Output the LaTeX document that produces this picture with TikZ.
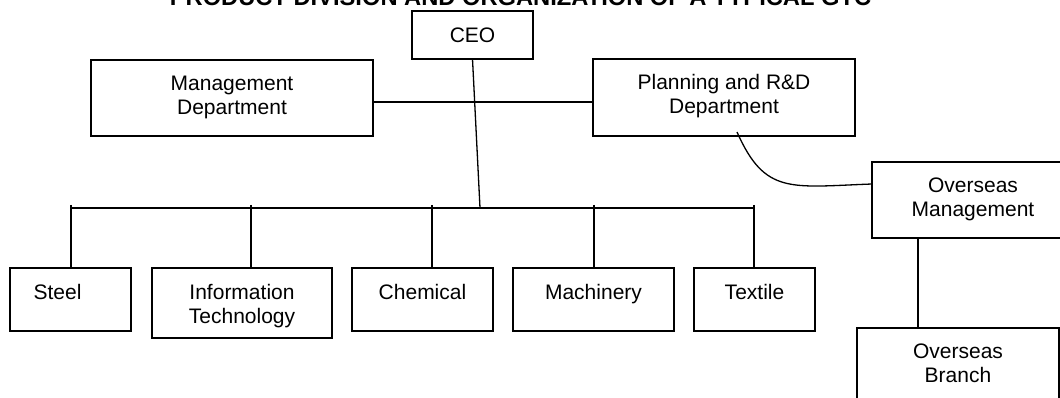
\documentclass[tikz,border=0pt]{standalone}
\usepackage{fontspec}
\setmainfont{Liberation Sans}
\newcommand\boxtext[1]{\begin{tabular}[t]{@{}c@{}}#1\end{tabular}}
\begin{document}
\begin{tikzpicture}[x=1pt,y=-1pt,
  unit/.style={draw, line width=1.3pt, inner sep=0pt, outer sep=0pt, anchor=north west},
  caption/.style={anchor=base, inner sep=0pt, font=\fontsize{21}{24}\selectfont},
  link/.style={line width=1.3pt}]
\useasboundingbox (0,0) rectangle (1060,398);
\clip (0,0) rectangle (1060,398);

% heading
\node[anchor=base, inner sep=0pt, font=\fontsize{23.7}{28}\selectfont\bfseries] (title) at (520.5,6)
  {PRODUCT DIVISION AND ORGANIZATION OF A TYPICAL GTC};

% top level
\node[unit, minimum width=121pt, minimum height=48pt] (ceo) at (412,11) {};
\node[unit, minimum width=282pt, minimum height=76pt] (mgmt) at (91,60) {};
\node[unit, minimum width=262pt, minimum height=77pt] (plan) at (593,59) {};

% divisions
\node[unit, minimum width=121pt, minimum height=63pt] (steel) at (10,268) {};
\node[unit, minimum width=180pt, minimum height=70pt] (it) at (152,268) {};
\node[unit, minimum width=141pt, minimum height=63pt] (chem) at (352,268) {};
\node[unit, minimum width=161pt, minimum height=63pt] (mach) at (513,268) {};
\node[unit, minimum width=121pt, minimum height=63pt] (tex) at (694,268) {};

% overseas
\node[unit, minimum width=202pt, minimum height=76pt] (om) at (872,162) {};
\node[unit, minimum width=202pt, minimum height=76pt] (ob) at (857,328) {};

% captions
\node[caption] (ceot) at ([yshift=-32pt]ceo.north) {CEO};
\node[caption] (mgmtt) at ([yshift=-31pt]mgmt.north) {\boxtext{Management\\Department}};
\node[caption] (plant) at ([yshift=-31pt]plan.north) {\boxtext{Planning and R\&D\\Department}};
\node[caption] (steelt) at ([xshift=-13pt,yshift=-31pt]steel.north) {Steel};
\node[caption] (itt) at ([yshift=-31pt]it.north) {\boxtext{Information\\Technology}};
\node[caption] (chemt) at ([yshift=-31pt]chem.north) {Chemical};
\node[caption] (macht) at ([yshift=-31pt]mach.north) {Machinery};
\node[caption] (text) at ([yshift=-31pt]tex.north) {Textile};
\node[caption] (omt) at ([yshift=-31pt]om.north) {\boxtext{Overseas\\Management}};
\node[caption] (obt) at ([yshift=-30pt]ob.north) {\boxtext{Overseas\\Branch}};

% staff line between the two departments
\draw[link] ([yshift=-4pt]mgmt.east) -- ([yshift=-4pt]mgmt.east -| plan.west);

% CEO down to the division bus
\coordinate (hub) at (480,208);
\draw[link] (ceo.south) -- (hub);

\coordinate (t1) at (71,205);
\coordinate (t2) at (251,205);
\coordinate (t3) at (432,205);
\coordinate (t4) at (594,205);
\coordinate (t5) at (754,205);
\draw[link] (t1 |- hub) -- (t5 |- hub);
\draw[link] (t1) -- (t1 |- steel.north);
\draw[link] (t2) -- (t2 |- it.north);
\draw[link] (t3) -- (t3 |- chem.north);
\draw[link] (t4) -- (t4 |- mach.north);
\draw[link] (t5) -- (t5 |- tex.north);

% planning to overseas management
\draw[link] ([xshift=13pt,yshift=4pt]plan.south) .. controls (765,195) and (790,187) .. ([yshift=16pt]om.west);

% overseas management to branch
\coordinate (ovj) at (918,0);
\draw[link] (om.south -| ovj) -- (ob.north -| ovj);
\end{tikzpicture}
\end{document}
